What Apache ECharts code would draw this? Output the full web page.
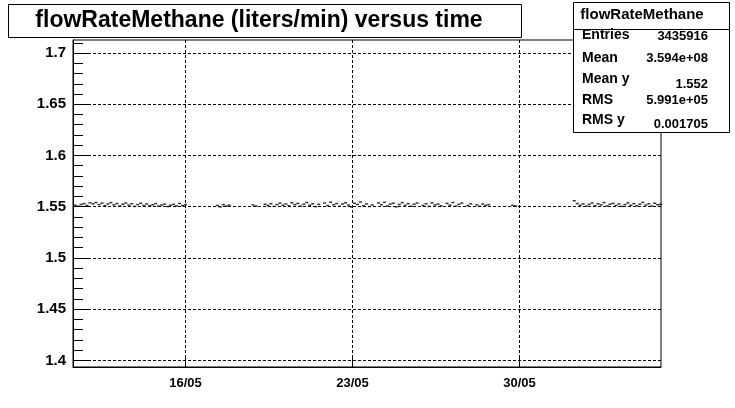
<!DOCTYPE html>
<html>
<head>
<meta charset="utf-8">
<script src="https://cdn.jsdelivr.net/npm/echarts@6/dist/echarts.min.js"></script>
<style>
html,body{margin:0;padding:0;background:#fff;}
#chart{width:735px;height:408px;}
</style>
</head>
<body>
<div id="chart"></div>
<script>
// ---- data (x in hours since 11/05/2006 00:00) ----
const xTickHours = [120, 288, 456];
const xTickLabels = ['16/05', '23/05', '30/05'];
const yMajorTicks = [1.4, 1.45, 1.5, 1.55, 1.6, 1.65, 1.7];
const yMinorTicks = [1.41,1.42,1.43,1.44,1.46,1.47,1.48,1.49,1.51,1.52,1.53,1.54,1.56,1.57,1.58,1.59,1.61,1.62,1.63,1.64,1.66,1.67,1.68,1.69,1.71];

const hoursA = [9,12,15,18,21,24,27,30,33,36,39,42,45,48,51,54,57,60,63,66,69,72,75,78,81,84,87,90,93,96,99,102,105,108,111,114,117,120];
const flowA = [1.5515,1.5505,1.5522,1.5530,1.5512,1.5538,1.5528,1.5541,1.5520,1.5535,1.5510,1.5526,1.5540,1.5518,1.5531,1.5507,1.5524,1.5536,1.5515,1.5529,1.5503,1.5521,1.5533,1.5512,1.5527,1.5509,1.5519,1.5530,1.5506,1.5516,1.5525,1.5502,1.5514,1.5523,1.5508,1.5532,1.5511,1.5520];

const hoursB = [152,155,158,161,164];
const flowB = [1.5512,1.5498,1.5520,1.5505,1.5515];

const hoursC = [188,191,200,203,206,209,212,215,218,221,224,227,230,233,236,239,242,245,248,251,254,
  260,263,266,269,272,275,278,281,284,287,290,293,296,299,302,305,308,
  314,317,320,323,326,329,332,335,338,341,344,347,350,353,
  359,362,365,368,371,374,377,
  383,386,389,392,395,398,
  404,407,
  413,416,419,422,425];
const flowC = [1.5518,1.5506,1.5524,1.5512,1.5530,1.5503,1.5521,1.5535,1.5515,1.5527,1.5509,1.5538,1.5520,1.5532,1.5507,1.5525,1.5541,1.5514,1.5529,1.5501,1.5523,
  1.5536,1.5511,1.5544,1.5519,1.5531,1.5504,1.5527,1.5539,1.5516,1.5498,1.5533,1.5522,1.5546,1.5510,1.5528,1.5502,1.5517,
  1.5537,1.5519,1.5543,1.5508,1.5526,1.5534,1.5499,1.5521,1.5540,1.5513,1.5530,1.5505,1.5524,1.5536,
  1.5512,1.5529,1.5503,1.5538,1.5518,1.5526,1.5509,
  1.5532,1.5515,1.5541,1.5506,1.5523,1.5535,
  1.5511,1.5528,
  1.5517,1.5504,1.5526,1.5512,1.5520];

const hoursD = [449,452];
const flowD = [1.5513,1.5508];

const hoursE = [511,514,517,520,523,526,529,532,535,538,541,544,547,550,553,556,559,562,565,568,571,574,577,580,583,586,589,592,595,598];
const flowE = [1.5558,1.5531,1.5515,1.5527,1.5505,1.5522,1.5536,1.5510,1.5529,1.5518,1.5540,1.5507,1.5524,1.5533,1.5512,1.5526,1.5503,1.5521,1.5537,1.5514,1.5530,1.5509,1.5525,1.5542,1.5516,1.5528,1.5506,1.5534,1.5519,1.5523];

const statsTitle = 'flowRateMethane';
const statsLabels = ['Entries', 'Mean', 'Mean y', 'RMS', 'RMS y'];
const statsValues = ['3435916', '3.594e+08', '1.552', '5.991e+05', '0.001705'];
const titleText = 'flowRateMethane (liters/min) versus time';

// ---- build ----
const allHours = hoursA.concat(hoursB, hoursC, hoursD, hoursE);
const allFlow = flowA.concat(flowB, flowC, flowD, flowE);
const points = allHours.map((h, i) => [h, allFlow[i]]);

const FONT = 'Liberation Sans';
const X_MIN = 6.86, X_MAX = 598.3;
const Y_MIN = 1.39356, Y_MAX = 1.7127;

const chart = echarts.init(document.getElementById('chart'), null, {renderer: 'canvas'});

const labelYs = [35, 58, 79, 100, 120];
const valueYs = [36, 58, 84, 100, 124];
const graphics = [
  {type:'rect', z:100, shape:{x:8.5, y:4.5, width:513, height:33}, style:{fill:'#fff', stroke:'#000', lineWidth:1}},
  {type:'text', z:101, x:259, y:21, style:{text:titleText, font:'bold 23px "Liberation Sans"', fill:'#000', align:'center', verticalAlign:'middle'}},
  {type:'rect', z:100, shape:{x:573.5, y:2.5, width:156, height:130}, style:{fill:'#fff', stroke:'#000', lineWidth:1}},
  {type:'line', z:101, shape:{x1:573.5, y1:29.5, x2:729.5, y2:29.5}, style:{stroke:'#000', lineWidth:1}},
  {type:'text', z:101, x:642, y:15, style:{text:statsTitle, font:'bold 15px "Liberation Sans"', fill:'#000', align:'center', verticalAlign:'middle'}}
];
statsLabels.forEach((l, i) => {
  graphics.push({type:'text', z:101, x:582, y:labelYs[i], style:{text:l, font:'bold 14px "Liberation Sans"', fill:'#000', align:'left', verticalAlign:'middle'}});
  graphics.push({type:'text', z:101, x:708, y:valueYs[i], style:{text:statsValues[i], font:'bold 13px "Liberation Sans"', fill:'#000', align:'right', verticalAlign:'middle'}});
});

const option = {
  animation: false,
  backgroundColor: '#fff',
  textStyle: {fontFamily: FONT},
  grid: {left: 73, top: 40, width: 588, height: 327, show: true, borderColor: '#000', borderWidth: 1, backgroundColor: '#fff', containLabel: false},
  xAxis: {
    type: 'value', min: X_MIN, max: X_MAX, position: 'bottom',
    axisLine: {show: true, onZero: false, lineStyle: {color: '#000', width: 1}},
    axisTick: {show: true, inside: true, length: 9, customValues: xTickHours, lineStyle: {color: '#000', width: 1}},
    axisLabel: {show: true, customValues: xTickHours, margin: 10, color: '#000', fontWeight: 'bold', fontSize: 13, fontFamily: FONT,
      formatter: v => { const k = xTickHours.indexOf(v); return k >= 0 ? xTickLabels[k] : ''; }},
    splitLine: {show: true, lineStyle: {color: '#000', width: 1, type: [3, 2]}}
  },
  yAxis: [
    {
      type: 'value', min: Y_MIN, max: Y_MAX, position: 'left',
      axisLine: {show: true, onZero: false, lineStyle: {color: '#000', width: 1}},
      axisTick: {show: true, inside: true, length: 16, customValues: yMajorTicks, lineStyle: {color: '#000', width: 1}},
      axisLabel: {show: true, customValues: yMajorTicks, margin: 7, color: '#000', fontWeight: 'bold', fontSize: 15, fontFamily: FONT},
      splitLine: {show: true, lineStyle: {color: '#000', width: 1, type: [3, 2]}}
    },
    {
      type: 'value', min: Y_MIN, max: Y_MAX, position: 'left', offset: 0,
      axisLine: {show: false},
      axisTick: {show: true, inside: true, length: 10, customValues: yMinorTicks, lineStyle: {color: '#000', width: 1}},
      axisLabel: {show: false},
      splitLine: {show: false}
    }
  ],
  series: [{
    type: 'scatter', xAxisIndex: 0, yAxisIndex: 0,
    symbol: 'rect', symbolSize: [3, 1.5],
    itemStyle: {color: '#000'},
    silent: true,
    data: points
  }],
  graphic: graphics
};
chart.setOption(option);
</script>
</body>
</html>
